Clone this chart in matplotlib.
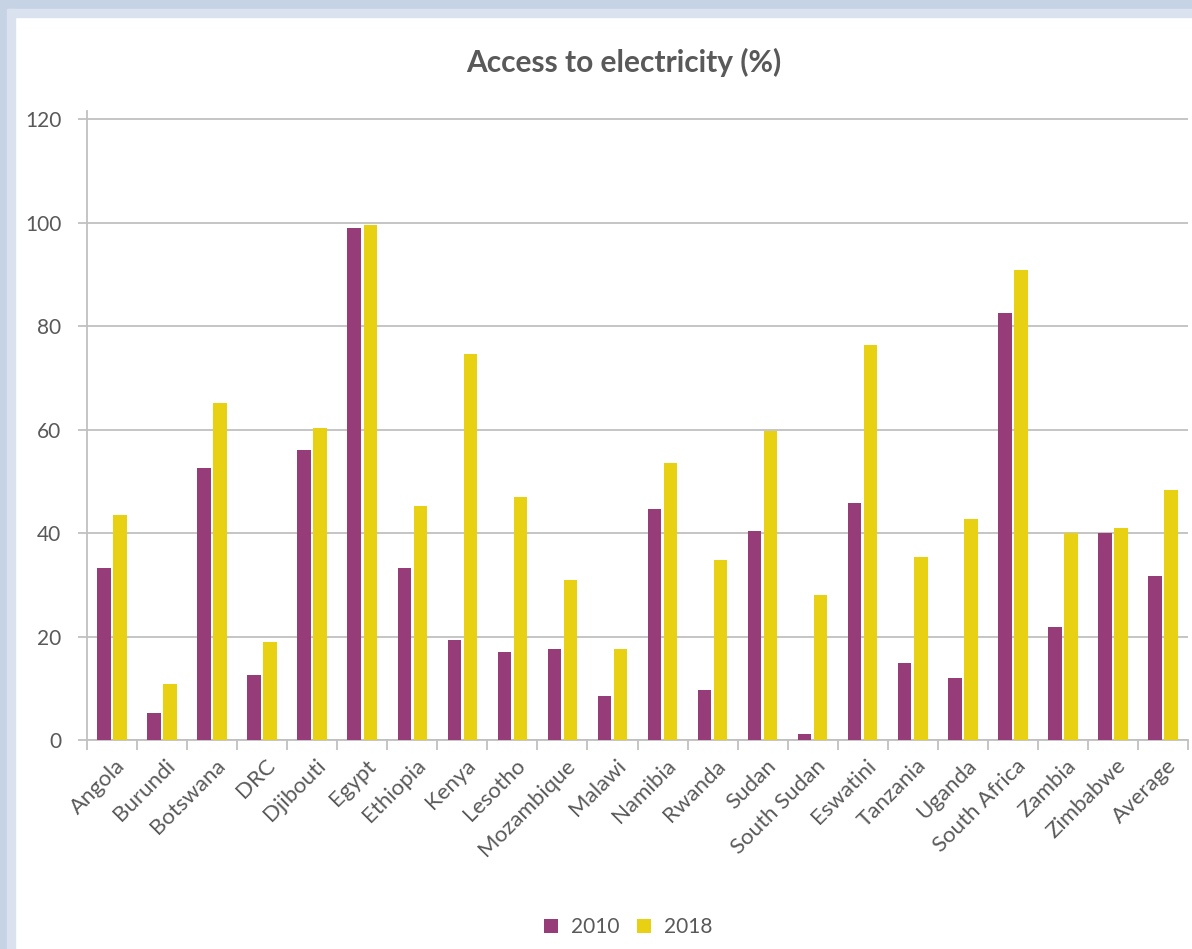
import matplotlib
matplotlib.use("Agg")
from matplotlib import pyplot as plt
from matplotlib.patches import Rectangle
from matplotlib.transforms import ScaledTranslation
import numpy as np

countries = ["Angola", "Burundi", "Botswana", "DRC", "Djibouti", "Egypt", "Ethiopia",
             "Kenya", "Lesotho", "Mozambique", "Malawi", "Namibia", "Rwanda", "Sudan",
             "South Sudan", "Eswatini", "Tanzania", "Uganda", "South Africa", "Zambia",
             "Zimbabwe", "Average"]
access_2010 = [33.2, 5.3, 52.6, 12.7, 56.1, 99.0, 33.2, 19.4, 17.1, 17.7, 8.6,
               44.6, 9.7, 40.5, 1.2, 45.8, 15.0, 12.1, 82.6, 21.8, 40.0, 31.8]
access_2018 = [43.5, 10.9, 65.2, 18.9, 60.4, 99.6, 45.2, 74.6, 47.0, 30.9, 17.7,
               53.6, 34.9, 59.8, 28.0, 76.4, 35.5, 42.8, 90.9, 40.0, 41.1, 48.4]
years = ["2010", "2018"]

PURPLE = "#963d79"
YELLOW = "#e8d012"
GREY_TXT = "#595959"
GRID = "#c0c0c0"

plt.rcParams['font.family'] = ['Lato', 'DejaVu Sans']

fig = plt.figure(figsize=(11.92, 9.49), dpi=100)
W, H = 1192, 949

# frame bands along top and left edge
fig.add_artist(Rectangle((0, 1 - 9 / H), 1, 9 / H, transform=fig.transFigure,
                         color="#c6d3e5", zorder=0))
fig.add_artist(Rectangle((0, 1 - 17 / H), 1, 8 / H, transform=fig.transFigure,
                         color="#dae2ef", zorder=0))
fig.add_artist(Rectangle((0, 0), 7 / W, 1, transform=fig.transFigure,
                         color="#c6d3e5", zorder=0))
fig.add_artist(Rectangle((7 / W, 0), 8 / W, 1 - 9 / H, transform=fig.transFigure,
                         color="#dae2ef", zorder=0))

ax = fig.add_axes([87 / W, 1 - 740.3 / H, (1188 - 87) / W, (740.3 - 111) / H])
ax.set_facecolor("none")

x = np.arange(len(countries))
w = 0.27
ax.bar(x - 0.16, access_2010, width=w, color=PURPLE, label=years[0], zorder=3)
ax.bar(x + 0.16, access_2018, width=w, color=YELLOW, label=years[1], zorder=3)

ax.set_xlim(-0.5, len(countries) - 0.5)
ax.set_ylim(0, 121.6)
ax.set_yticks(np.arange(0, 121, 20))
ax.yaxis.grid(True, color=GRID, linewidth=1.3, zorder=0)
ax.set_axisbelow(True)

for s in ["top", "right"]:
    ax.spines[s].set_visible(False)
for s in ["left", "bottom"]:
    ax.spines[s].set_color(GRID)
    ax.spines[s].set_linewidth(1.3)

ax.tick_params(axis="y", length=6.5, width=1.3, color=GRID, pad=12,
               labelsize=15, labelcolor=GREY_TXT)

# category labels at centres, tick marks at category edges
ax.set_xticks(x)
ax.set_xticklabels(countries, rotation=45, ha="right", rotation_mode="anchor",
                   fontsize=16, color=GREY_TXT)
ax.tick_params(axis="x", which="major", length=0, pad=11)
ax.set_xticks(np.arange(-0.5, len(countries), 1), minor=True)
ax.tick_params(axis="x", which="minor", length=7, width=1.3, color=GRID)
for lab in ax.get_xticklabels():
    lab.set_transform(lab.get_transform() + ScaledTranslation(0.03, 0, fig.dpi_scale_trans))

fig.text(624 / W, 1 - 62 / H, "Access to electricity (%)", ha="center", va="center",
         fontsize=21.5, fontweight="bold", color=GREY_TXT)

fig.legend(loc="center", bbox_to_anchor=(628 / W, 1 - 927 / H), ncol=2, frameon=False,
           fontsize=15, labelcolor=GREY_TXT, handlelength=0.67, handleheight=0.67,
           handletextpad=0.62, columnspacing=0.86)

fig.savefig("out.png", dpi=100)
